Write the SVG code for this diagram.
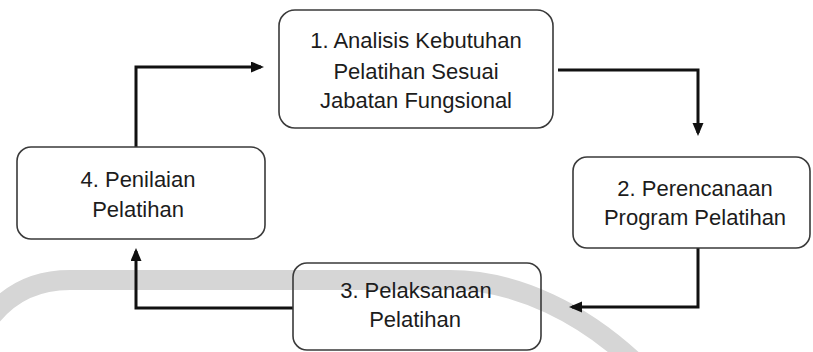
<svg xmlns="http://www.w3.org/2000/svg" width="813" height="352" viewBox="0 0 813 352">
<style>
.box{fill:none;stroke:#3a3a3a;stroke-width:1.6}
.bg{fill:#ffffff}
.lbl{font-family:"Liberation Sans",Arial,sans-serif;font-size:22px;fill:#1c1c1c;text-anchor:middle}
.conn{fill:none;stroke:#111111;stroke-width:3;stroke-linejoin:miter;stroke-linecap:butt}
.wm{fill:none;stroke:#d6d6d6;stroke-width:20}
</style>
<defs>
<marker id="arr" markerUnits="userSpaceOnUse" markerWidth="14" markerHeight="12" refX="10" refY="5.5" orient="auto">
<path d="M0,0 L13,5.5 L0,11 z" fill="#111111"/>
</marker>
</defs>
<rect width="813" height="352" fill="#ffffff"/>
<g id="watermark">
<path class="wm" d="M-15,325 Q15,280 70,280 L450,280 C515,280 585,312 645,372"/>
</g>
<g id="connectors">
<path class="conn" d="M558,70 H698 V133" marker-end="url(#arr)"/>
<path class="conn" d="M698,248 V307 H572" marker-end="url(#arr)"/>
<path class="conn" d="M293,308 H136 V251" marker-end="url(#arr)"/>
<path class="conn" d="M136,147 V67 H261" marker-end="url(#arr)"/>
</g>
<g id="node1">
<rect class="bg" x="279" y="10" width="274" height="118" rx="16"/>
<rect class="box" x="279" y="10" width="274" height="118" rx="16"/>
<text class="lbl" x="416" y="48">1. Analisis Kebutuhan</text>
<text class="lbl" x="416" y="78.5">Pelatihan Sesuai</text>
<text class="lbl" x="416" y="108">Jabatan Fungsional</text>
</g>
<g id="node2">
<rect class="bg" x="573" y="157" width="237" height="91" rx="14"/>
<rect class="box" x="573" y="157" width="237" height="91" rx="14"/>
<text class="lbl" x="695" y="196">2. Perencanaan</text>
<text class="lbl" x="695" y="225">Program Pelatihan</text>
</g>
<g id="node3">
<rect class="box" x="293" y="263" width="248" height="87" rx="14"/>
<text class="lbl" x="416" y="298">3. Pelaksanaan</text>
<text class="lbl" x="415" y="327">Pelatihan</text>
</g>
<g id="node4">
<rect class="bg" x="17" y="147" width="248" height="92" rx="14"/>
<rect class="box" x="17" y="147" width="248" height="92" rx="14"/>
<text class="lbl" x="138" y="187">4. Penilaian</text>
<text class="lbl" x="138" y="217">Pelatihan</text>
</g>
</svg>
